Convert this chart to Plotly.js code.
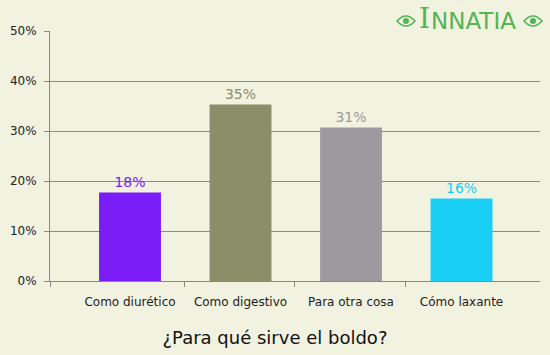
<!DOCTYPE html>
<html>
<head>
<meta charset="utf-8">
<script src="https://cdn.plot.ly/plotly-3.0.1.min.js"></script>
<style>html,body{margin:0;padding:0;background:#f2f2e1;}#chart{width:550px;height:355px;}</style>
</head>
<body>
<div id="chart"></div>
<script>
const categories = ["Como diurético", "Como digestivo", "Para otra cosa", "Cómo laxante"];
const values = [17.7, 35.3, 30.7, 16.5];
const valueLabels = ["18%", "35%", "31%", "16%"];
const barColors = ["#7a1cf5", "#8a8e69", "#9c9a9f", "#19cff5"];
const yTickVals = [0, 10, 20, 30, 40, 50];
const yTickText = ["0%", "10%", "20%", "30%", "40%", "50%"];
const chartTitle = "¿Para qué sirve el boldo?";

const xIdx = categories.map((c, i) => i);
const xRange = [-0.724, 3.71];
const boundaryTicks = [-0.724, 0.489, 1.484, 2.489];

const px = v => (v - 50) / 490;
const py = v => (281 - v) / 250;

const trace = {
  type: "bar",
  x: xIdx,
  y: values,
  width: 0.56,
  marker: {color: barColors},
  text: valueLabels,
  textposition: "outside",
  textfont: {family: "DejaVu Sans", size: 14, color: barColors},
  cliponaxis: false,
  hoverinfo: "none"
};
const dummy = {type: "scatter", x: [0], y: [0], xaxis: "x2", mode: "markers", marker: {opacity: 0}, hoverinfo: "none", showlegend: false};

function eye(cx) {
  return "M " + px(cx - 9) + "," + py(21) + " Q " + px(cx) + "," + py(11) + " " + px(cx + 9) + "," + py(21) +
         " Q " + px(cx) + "," + py(31) + " " + px(cx - 9) + "," + py(21) + " Z";
}

const layout = {
  width: 550, height: 355,
  margin: {l: 50, r: 10, t: 31, b: 74},
  paper_bgcolor: "#f2f2e1",
  plot_bgcolor: "#f2f2e1",
  showlegend: false,
  font: {family: "DejaVu Sans", color: "#222"},
  title: {text: chartTitle, font: {family: "DejaVu Sans", size: 18, color: "#111"}, x: 0.5, xanchor: "center", y: 0.048, yanchor: "middle", yref: "container"},
  xaxis: {range: xRange, tickvals: xIdx, ticktext: categories, ticks: "", showgrid: false, zeroline: false, showline: true, linecolor: "#888", linewidth: 1, tickfont: {size: 12, color: "#222"}, ticklabelstandoff: 10, fixedrange: true},
  xaxis2: {overlaying: "x", anchor: "y", side: "bottom", range: xRange, tickvals: boundaryTicks, ticks: "outside", ticklen: 5, tickcolor: "#888", showticklabels: false, showgrid: false, zeroline: false, showline: false},
  yaxis: {range: [0, 50], tickvals: yTickVals, ticktext: yTickText, ticks: "outside", ticklen: 5, tickcolor: "#888", gridcolor: "#8a8a8a", gridwidth: 1, showline: true, linecolor: "#888", linewidth: 1, zeroline: false, tickfont: {size: 12, color: "#222"}, ticklabelstandoff: 5, fixedrange: true},
  annotations: [
    {xref: "paper", yref: "paper", x: px(424), y: py(19), xanchor: "center", yanchor: "middle", showarrow: false,
     text: "I", font: {family: "DejaVu Serif", size: 28, color: "#52b552"}},
    {xref: "paper", yref: "paper", x: px(429), y: py(21.5), xanchor: "left", yanchor: "middle", showarrow: false,
     text: "NNATIA", font: {family: "DejaVu Sans", size: 23, color: "#52b552"}}
  ],
  shapes: [
    {type: "path", xref: "paper", yref: "paper", path: eye(406), line: {color: "#52b552", width: 1.5}},
    {type: "circle", xref: "paper", yref: "paper", x0: px(403), x1: px(409), y0: py(24), y1: py(18), fillcolor: "#52b552", line: {width: 0}},
    {type: "path", xref: "paper", yref: "paper", path: eye(533), line: {color: "#52b552", width: 1.5}},
    {type: "circle", xref: "paper", yref: "paper", x0: px(530), x1: px(536), y0: py(24), y1: py(18), fillcolor: "#52b552", line: {width: 0}}
  ]
};

Plotly.newPlot("chart", [trace, dummy], layout, {displayModeBar: false, staticPlot: true});
</script>
</body>
</html>
